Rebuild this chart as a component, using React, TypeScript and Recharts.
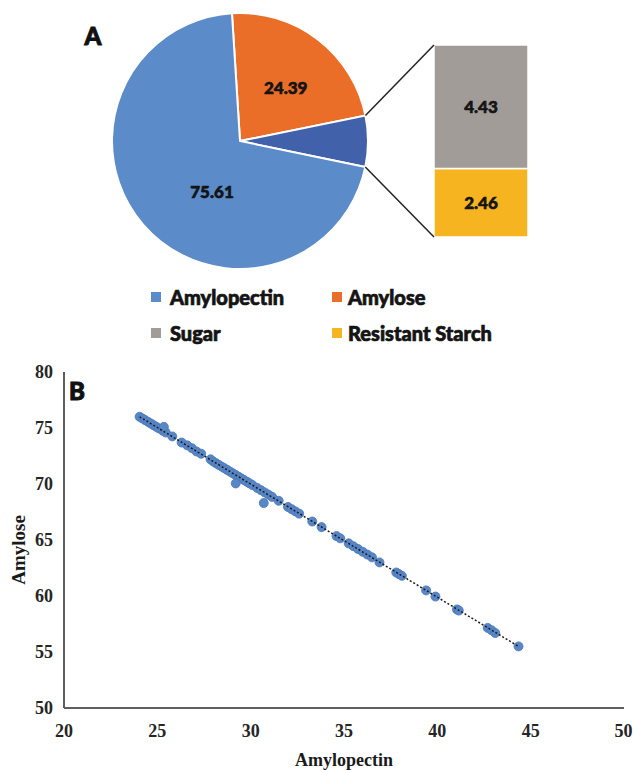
import React from "react";
import {
  PieChart,
  Pie,
  Cell,
  BarChart,
  Bar,
  XAxis,
  YAxis,
  ZAxis,
  ScatterChart,
  Scatter,
  LabelList,
  Label,
} from "recharts";

// panel A: pie with the "other" slice split into a bar
const pieNames = ["Amylose", "Other", "Amylopectin"];
const pieValues = [24.39, 6.89, 75.61];
const pieColors = ["#ea6d28", "#4161ab", "#5b8bc8"];

const barNames = ["Resistant Starch", "Sugar"];
const barValues = [2.46, 4.43];
const barColors = ["#f6b520", "#a29c99"];

const legendNames = ["Amylopectin", "Amylose", "Sugar", "Resistant Starch"];
const legendColors = ["#5b8bc8", "#ea6d28", "#a29c99", "#f6b520"];

// panel B: scatter
const amylopectin = [
  24.05, 24.2, 24.35, 24.5, 24.65, 24.8, 24.95, 25.1, 25.3, 25.45, 25.8, 25.35,
  26.3, 26.6, 26.85, 27.1, 27.35,
  27.85, 28.0, 28.15, 28.3, 28.45, 28.6, 28.75, 28.9, 29.05, 29.2, 29.35, 29.5,
  29.65, 29.8, 29.95, 30.1, 29.2,
  30.35, 30.55, 30.75, 30.95, 31.15, 31.5, 30.7,
  32.0, 32.2, 32.4, 32.6, 33.3, 33.8, 34.6, 34.8, 35.25, 35.5, 35.75, 36.0,
  36.25, 36.5, 36.9, 37.8, 37.95, 38.1, 39.4, 39.9, 41.05, 41.15, 42.7, 42.9,
  43.1, 44.35,
];
const amylose = [
  76.0, 75.85, 75.7, 75.55, 75.4, 75.25, 75.1, 74.95, 74.75, 74.6, 74.25, 75.1,
  73.7, 73.45, 73.2, 72.9, 72.7,
  72.2, 72.0, 71.85, 71.7, 71.55, 71.4, 71.25, 71.1, 70.95, 70.8, 70.65, 70.5,
  70.35, 70.2, 70.05, 69.9, 70.05,
  69.65, 69.45, 69.25, 69.05, 68.85, 68.5, 68.3,
  67.95, 67.75, 67.55, 67.35, 66.65, 66.15, 65.35, 65.15, 64.7, 64.45, 64.2, 63.95,
  63.7, 63.45, 63.0, 62.1, 61.95, 61.8, 60.5, 59.95, 58.8, 58.7, 57.15, 56.95,
  56.7, 55.5,
];
const trendX = [24.05, 44.35];
const trendY = [76.0, 55.5];
const xTicks = [20, 25, 30, 35, 40, 45, 50];
const yTicks = [50, 55, 60, 65, 70, 75, 80];

const pieData = pieNames.map((name, i) => ({ name, value: pieValues[i] }));
const barData = [
  Object.fromEntries(barNames.map((n, i) => [n, barValues[i]])),
];
const points = amylopectin.map((x, i) => ({ x, y: amylose[i] }));
const trendPoints = trendX.map((x, i) => ({ x, y: trendY[i] }));

const CX = 240;
const CY = 141;
const R = 128;
const START = 93.6;
const BAR_BOX = { left: 434, top: 45, width: 94, height: 192 };

const sans = "Lato, 'Open Sans', sans-serif";
const serif = "'Liberation Serif', 'Times New Roman', serif";
const ink = "#141414";

const pieTotal = pieValues.reduce((a, b) => a + b, 0);

function edgePoint(deg: number) {
  const r = (deg * Math.PI) / 180;
  return { x: CX + R * Math.cos(r), y: CY - R * Math.sin(r) };
}

const renderPieLabel = (props: any) => {
  const { cx, cy, midAngle, outerRadius, index, value } = props;
  if (index === 1) return null;
  const shift = index === 2 ? 20 : -3;
  const rf = index === 2 ? 0.45 : 0.55;
  const a = ((midAngle + shift) * Math.PI) / 180;
  const x = cx + outerRadius * rf * Math.cos(a);
  const y = cy - outerRadius * rf * Math.sin(a);
  return (
    <text
      x={x}
      y={y}
      textAnchor="middle"
      dominantBaseline="central"
      fill={ink}
      stroke={ink}
      strokeWidth={0.6}
      fontFamily={sans}
      fontWeight={900}
      fontSize={17}
    >
      {value.toFixed(2)}
    </text>
  );
};

export default function App() {
  const a1 = START - (360 * pieValues[0]) / pieTotal;
  const a2 = a1 - (360 * pieValues[1]) / pieTotal;
  const p1 = edgePoint(a1);
  const p2 = edgePoint(a2);

  const tickStyle = {
    fill: "#262626",
    fontSize: 18,
    fontWeight: 700,
    fontFamily: serif,
  };

  return (
    <div
      style={{
        position: "absolute",
        left: 0,
        top: 0,
        width: 634,
        height: 770,
        background: "#fff",
        overflow: "hidden",
      }}
    >
      <div style={{ position: "absolute", left: 0, top: 0 }}>
        <PieChart width={634} height={290} margin={{ top: 0, right: 0, bottom: 0, left: 0 }}>
          <Pie
            data={pieData}
            dataKey="value"
            cx={CX}
            cy={CY}
            outerRadius={R}
            startAngle={START}
            endAngle={START - 360}
            stroke="#fff"
            strokeWidth={2}
            labelLine={false}
            label={renderPieLabel}
            isAnimationActive={false}
          >
            {pieData.map((d, i) => (
              <Cell key={d.name} fill={pieColors[i]} />
            ))}
          </Pie>
        </PieChart>
      </div>

      <div style={{ position: "absolute", left: BAR_BOX.left, top: BAR_BOX.top }}>
        <BarChart
          width={BAR_BOX.width}
          height={BAR_BOX.height}
          data={barData}
          margin={{ top: 0, right: 0, bottom: 0, left: 0 }}
          barCategoryGap={0}
        >
          <XAxis hide type="category" />
          <YAxis hide type="number" domain={[0, pieValues[1]]} />
          {barNames.map((n, i) => (
            <Bar
              key={n}
              dataKey={n}
              stackId="s"
              fill={barColors[i]}
              stroke="#fff"
              strokeWidth={1.5}
              isAnimationActive={false}
            >
              <LabelList
                dataKey={n}
                position="center"
                formatter={(v: any) => Number(v).toFixed(2)}
                style={{
                  fill: ink,
                  stroke: ink,
                  strokeWidth: 0.6,
                  fontFamily: sans,
                  fontWeight: 900,
                  fontSize: 17,
                }}
              />
            </Bar>
          ))}
        </BarChart>
      </div>

      {legendNames.map((n, i) => (
        <div
          key={n}
          style={{
            position: "absolute",
            left: i % 2 === 0 ? 151 : 332,
            top: i < 2 ? 284 : 320,
            height: 26,
            display: "flex",
            alignItems: "center",
            fontFamily: sans,
            fontWeight: 900,
            fontSize: 20,
            color: ink,
            WebkitTextStroke: "0.7px " + ink,
            whiteSpace: "nowrap",
          }}
        >
          <span
            style={{
              display: "inline-block",
              width: 10,
              height: 10,
              background: legendColors[i],
              marginRight: i % 2 === 0 ? 9 : 6,
            }}
          />
          {n}
        </div>
      ))}

      <div style={{ position: "absolute", left: 0, top: 350 }}>
        <ScatterChart width={634} height={420} margin={{ top: 22, right: 10, bottom: 0, left: 0 }}>
          <XAxis
            type="number"
            dataKey="x"
            domain={[20, 50]}
            ticks={xTicks}
            height={62}
            tickSize={0}
            tickMargin={16}
            axisLine={{ stroke: "#5f5f5f", strokeWidth: 2 }}
            tick={tickStyle}
          >
            <Label
              value="Amylopectin"
              position="insideBottom"
              offset={4}
              style={{ fill: "#1a1a1a", fontSize: 18, fontWeight: 700, fontFamily: serif }}
            />
          </XAxis>
          <YAxis
            type="number"
            dataKey="y"
            domain={[50, 80]}
            ticks={yTicks}
            width={64}
            tickSize={0}
            tickMargin={11}
            axisLine={{ stroke: "#5f5f5f", strokeWidth: 2 }}
            tick={tickStyle}
          >
            <Label
              value="Amylose"
              angle={-90}
              position="insideLeft"
              offset={18}
              dy={10}
              style={{
                fill: "#1a1a1a",
                fontSize: 19,
                fontWeight: 700,
                fontFamily: serif,
                textAnchor: "middle",
              }}
            />
          </YAxis>
          <ZAxis range={[72, 72]} />
          <Scatter
            data={points}
            fill="#5886c6"
            stroke="#4a78b8"
            strokeWidth={0.8}
            isAnimationActive={false}
          />
          <Scatter
            data={trendPoints}
            line={{ stroke: "#1a1a1a", strokeWidth: 1.5, strokeDasharray: "2 2" }}
            shape={() => <g />}
            isAnimationActive={false}
          />
        </ScatterChart>
      </div>

      <svg
        width={634}
        height={770}
        style={{ position: "absolute", left: 0, top: 0, pointerEvents: "none" }}
      >
        <line x1={p1.x} y1={p1.y} x2={BAR_BOX.left} y2={BAR_BOX.top} stroke="#222" strokeWidth={1.5} />
        <line
          x1={p2.x}
          y1={p2.y}
          x2={BAR_BOX.left}
          y2={BAR_BOX.top + BAR_BOX.height}
          stroke="#222"
          strokeWidth={1.5}
        />
        <text x={93} y={35} textAnchor="middle" dominantBaseline="central" fontFamily={sans} fontWeight={900} fontSize={24} fill="#111" stroke="#111" strokeWidth={1}>
          A
        </text>
        <text x={77} y={390} textAnchor="middle" dominantBaseline="central" fontFamily={sans} fontWeight={900} fontSize={24} fill="#111" stroke="#111" strokeWidth={1}>
          B
        </text>
      </svg>
    </div>
  );
}
